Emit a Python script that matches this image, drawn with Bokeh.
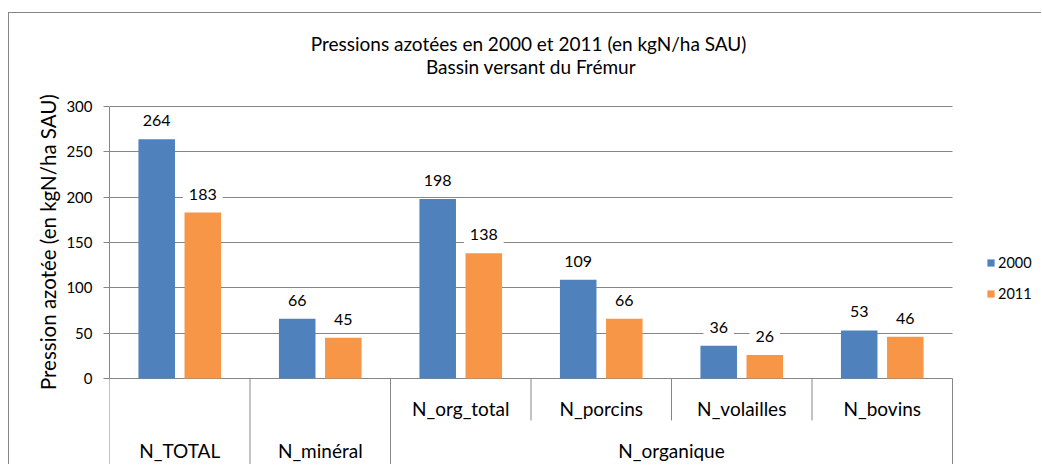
import math
from bokeh.plotting import figure
from bokeh.models import (Range1d, FixedTicker, ColumnDataSource,
                          Legend, LegendItem, Title)
from bokeh.transform import dodge
from bokeh.core.properties import value
from bokeh.embed import file_html
from bokeh.resources import INLINE

# ---------------- data ----------------
categories = ["N_TOTAL", "N_minéral", "N_org_total", "N_porcins", "N_volailles", "N_bovins"]
groups = ["N_TOTAL", "N_minéral", "N_organique", "N_organique", "N_organique", "N_organique"]
series = ["2000", "2011"]
values_2000 = [264, 66, 198, 109, 36, 53]
values_2011 = [183, 45, 138, 66, 26, 46]
y_ticks = [0, 50, 100, 150, 200, 250, 300]
title_lines = ["Pressions azotées en 2000 et 2011 (en kgN/ha  SAU)", "Bassin versant du Frémur"]
y_label = "Pression azotée (en kgN/ha  SAU)"

# ---------------- style ----------------
FONT = "Lato"
BLUE = "#4F81BD"
ORANGE = "#F79646"
GRAY = "#868686"
TXT = "#000000"

n = len(categories)
idx = list(range(n))
PX = 272 / 300.0           # pixels per unit on the value axis
CAT = 140.5                # pixels per category

p = figure(width=1033, height=452, output_backend="svg", toolbar_location=None,
           x_range=Range1d(-0.5, n - 0.5 + 90 / CAT),
           y_range=Range1d(-96, 300 + 93 / PX),
           min_border_left=100, min_border_right=0, min_border_top=0,
           min_border_bottom=0)
p.styles = {"margin-top": "12px", "margin-left": "8px",
            "border-top": "1px solid #868686", "border-left": "1px solid #868686"}
p.outline_line_color = None
p.background_fill_color = "white"
p.border_fill_color = "white"

p.xaxis.visible = False
p.xgrid.visible = False
p.ygrid.ticker = FixedTicker(ticks=y_ticks)
p.ygrid.grid_line_color = GRAY
p.ygrid.grid_line_width = 1
p.ygrid.cross_bounds = (-0.5, n - 0.5)

ax = p.yaxis[0]
ax.ticker = FixedTicker(ticks=y_ticks)
ax.bounds = (y_ticks[0], y_ticks[-1])
ax.axis_line_color = GRAY
ax.major_tick_line_color = GRAY
ax.major_tick_out = 6
ax.major_tick_in = 0
ax.minor_tick_line_color = None
ax.major_label_text_font = FONT
ax.major_label_text_font_size = "15px"
ax.major_label_text_color = TXT
ax.major_label_standoff = 11

p.add_layout(Title(text=y_label, align="center", offset=-8, standoff=8,
                   text_font=FONT, text_font_size="20.5px",
                   text_font_style="normal", text_color=TXT), "left")

src = ColumnDataSource(dict(x=idx, v2000=values_2000, v2011=values_2011,
                            t2000=[str(v) for v in values_2000],
                            t2011=[str(v) for v in values_2011]))

bw = 0.26
off = 0.164
r1 = p.vbar(x=dodge("x", -off), top="v2000", width=bw, source=src,
            fill_color=BLUE, line_color=None)
r2 = p.vbar(x=dodge("x", off), top="v2011", width=bw, source=src,
            fill_color=ORANGE, line_color=None)

for col, tcol, o in (("v2000", "t2000", -off), ("v2011", "t2011", off)):
    p.text(x=dodge("x", o), y=col, text=tcol, source=src, y_offset=-18.5,
           text_align="center", text_baseline="middle",
           text_font=value(FONT), text_font_size="16px", text_color=TXT,
           background_fill_color="white", padding=6)

# category axis (two levels)
ROW1 = -33.1
ROW2 = -79.4
ROWSPLIT = -46.3
BOTTOM = -96

upper_x, upper_t, lower_x, lower_t = [], [], [], []
seen = {}
for i, (c, g) in enumerate(zip(categories, groups)):
    if c == g:
        lower_x.append(i)
        lower_t.append(c)
    else:
        upper_x.append(i)
        upper_t.append(c)
        seen.setdefault(g, []).append(i)
for g, members in seen.items():
    lower_x.append(sum(members) / len(members))
    lower_t.append(g)

p.text(x=upper_x, y=[ROW1] * len(upper_x), text=upper_t, text_align="center",
       text_baseline="middle", text_font=value(FONT), text_font_size="19px",
       text_color=TXT)
p.text(x=lower_x, y=[ROW2] * len(lower_x), text=lower_t, text_align="center",
       text_baseline="middle", text_font=value(FONT), text_font_size="19px",
       text_color=TXT)

sx, sy0, sy1 = [-0.5], [0], [BOTTOM]
for i in range(n):
    b = i + 0.5
    if i == n - 1 or groups[i] != groups[i + 1] or categories[i] == groups[i]:
        sx.append(b); sy0.append(0); sy1.append(BOTTOM)
    else:
        sx.append(b); sy0.append(0); sy1.append(ROWSPLIT)
p.segment(x0=sx, y0=sy0, x1=sx, y1=sy1, line_color=GRAY, line_width=1)

# chart title (two centred lines above the plot area)
p.text(x=[(n - 1) / 2] * 2, y=[y_ticks[-1]] * 2, y_offset=[-63, -40],
       text=title_lines, text_align="center", text_baseline="middle",
       text_font=value(FONT), text_font_size="19px", text_color=TXT)

legend = Legend(items=[LegendItem(label=series[0], renderers=[r1]),
                       LegendItem(label=series[1], renderers=[r2])],
                location=(877, 162), orientation="vertical",
                glyph_width=9, glyph_height=9, label_height=20, spacing=11,
                label_standoff=3, padding=0, margin=0,
                label_text_font=FONT, label_text_font_size="14.5px",
                label_text_color=TXT, border_line_color=None,
                background_fill_alpha=0)
p.add_layout(legend)

open("out.html", "w").write(file_html(p, INLINE))
